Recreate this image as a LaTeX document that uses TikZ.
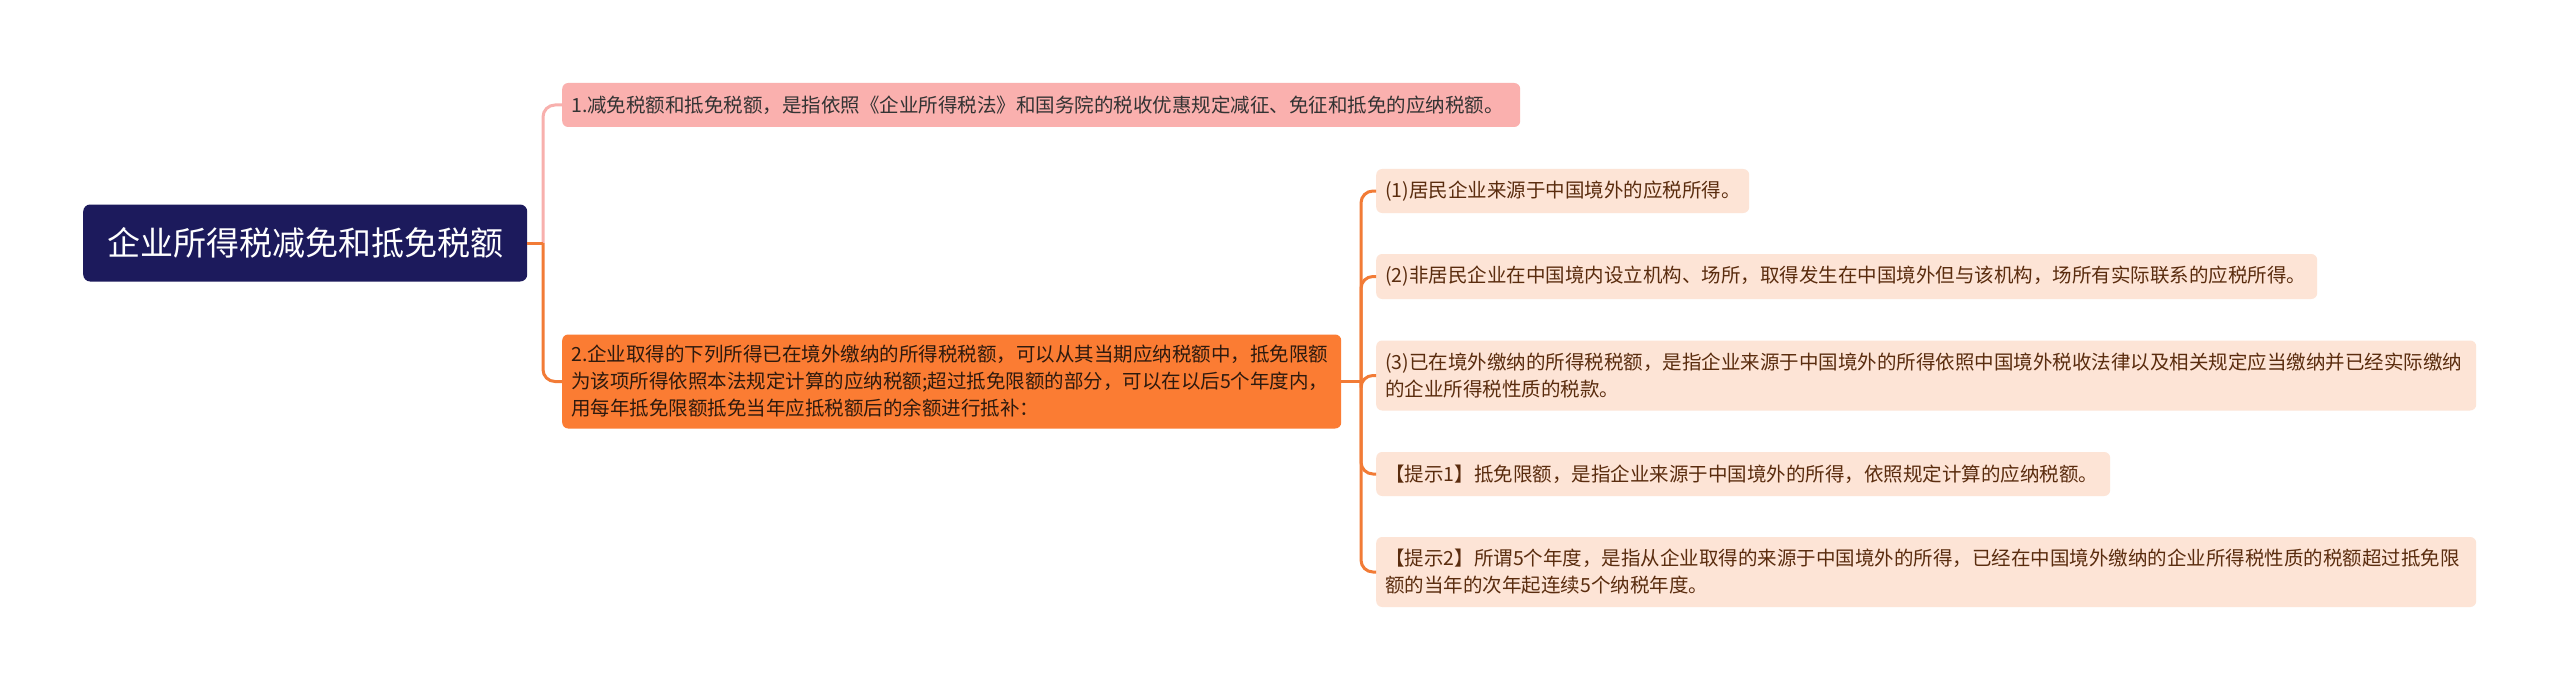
\documentclass[tikz,border=0pt]{standalone}
\usepackage{fontspec}
\setmainfont{Noto Sans CJK SC}
\definecolor{navy}{HTML}{1C1A5C}
\definecolor{pinkfill}{HTML}{FAB0AE}
\definecolor{pinkline}{HTML}{F8B0AD}
\definecolor{orangefill}{HTML}{FB7C33}
\definecolor{orangeline}{HTML}{F27B36}
\definecolor{peach}{HTML}{FDE4D6}
\definecolor{darktext}{HTML}{333333}
\definecolor{ortext}{HTML}{2E1A0E}
\definecolor{browntext}{HTML}{5A2C0E}
\begin{document}
\begin{tikzpicture}[x=1pt,y=-1pt,
  box/.style={rounded corners=6pt, anchor=west, inner xsep=9pt, inner ysep=0pt,
    align=left, font=\fontsize{19.5}{27}\selectfont},
  rootbox/.style={rounded corners=7pt, anchor=west, fill=navy, text=white,
    inner sep=0pt, minimum width=444pt, minimum height=77pt, align=center,
    font=\fontsize{33}{40}\selectfont},
  pinkbox/.style={box, fill=pinkfill, text=darktext},
  orangebox/.style={box, fill=orangefill, text=ortext},
  childbox/.style={box, fill=peach, text=browntext},
  pinkconn/.style={draw=pinkline, line width=3pt, rounded corners=12pt},
  orangeconn/.style={draw=orangeline, line width=3pt, rounded corners=12pt},
]
\useasboundingbox (0,0) rectangle (2560,690);
\fill[white] (0,0) rectangle (2560,690);

\node[rootbox] (root) at (83,243) {企业所得税减免和抵免税额};

\node[pinkbox, text width=940pt, minimum height=44pt] (n1) at (562,105)
  {1.减免税额和抵免税额，是指依照《企业所得税法》和国务院的税收优惠规定减征、免征和抵免的应纳税额。};

\node[orangebox, text width=761pt, minimum height=94pt] (n2) at (562,381.5)
  {2.企业取得的下列所得已在境外缴纳的所得税税额，可以从其当期应纳税额中，抵免限额\\
   为该项所得依照本法规定计算的应纳税额;超过抵免限额的部分，可以在以后5个年度内，\\
   用每年抵免限额抵免当年应抵税额后的余额进行抵补：};

\node[childbox, text width=355pt, minimum height=44pt] (c1) at (1376,191)
  {(1)居民企业来源于中国境外的应税所得。};
\node[childbox, text width=923pt, minimum height=45pt] (c2) at (1376,276.5)
  {(2)非居民企业在中国境内设立机构、场所，取得发生在中国境外但与该机构，场所有实际联系的应税所得。};
\node[childbox, text width=1082pt, minimum height=70pt] (c3) at (1376,375.5)
  {(3)已在境外缴纳的所得税税额，是指企业来源于中国境外的所得依照中国境外税收法律以及相关规定应当缴纳并已经实际缴纳\\
   的企业所得税性质的税款。};
\node[childbox, text width=716pt, minimum height=44pt] (c4) at (1376,474)
  {【提示1】抵免限额，是指企业来源于中国境外的所得，依照规定计算的应纳税额。};
\node[childbox, text width=1082pt, minimum height=70pt] (c5) at (1376,572)
  {【提示2】所谓5个年度，是指从企业取得的来源于中国境外的所得，已经在中国境外缴纳的企业所得税性质的税额超过抵免限\\
   额的当年的次年起连续5个纳税年度。};

\coordinate (t1) at (543,243);
\coordinate (t2) at (1361,381.5);

\draw[pinkconn] (t1) |- (n1.west);
\draw[orangeconn] (t1) |- (n2.west);
\draw[orangeconn] (root.east) -- (t1);

\draw[orangeconn] (n2.east) -- (t2);
\draw[orangeconn] (t2) |- (c1.west);
\draw[orangeconn] (t2) |- (c2.west);
\draw[orangeconn] (t2) |- (c3.west);
\draw[orangeconn] (t2) |- (c4.west);
\draw[orangeconn] (t2) |- (c5.west);
\end{tikzpicture}
\end{document}
